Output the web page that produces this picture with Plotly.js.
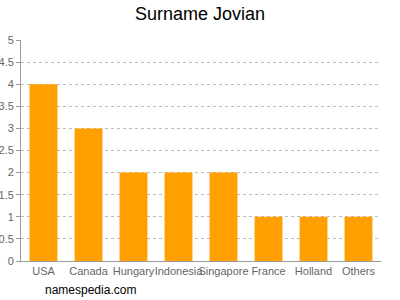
<!DOCTYPE html>
<html><head><meta charset="utf-8">
<script src="https://cdn.plot.ly/plotly-3.0.1.min.js"></script>
<style>html,body{margin:0;padding:0;background:#fff}#c{width:400px;height:300px}</style>
</head><body><div id="c"></div>
<script>
const categories = ["USA","Canada","Hungary","Indonesia","Singapore","France","Holland","Others"];
const counts = [4,3,2,2,2,1,1,1];
const yTicks = [0,0.5,1,1.5,2,2.5,3,3.5,4,4.5,5];
const yTickLabels = ["0","0.5","1","1.5","2","2.5","3","3.5","4","4.5","5"];

Plotly.newPlot('c', [{
  type: 'bar', x: categories, y: counts,
  marker: {color: '#ffa000', line: {width: 0}}, width: 0.62, hoverinfo: 'none'
}], {
  width: 400, height: 300,
  margin: {l: 21, r: 19, t: 40, b: 39},
  paper_bgcolor: '#fff', plot_bgcolor: '#fff',
  font: {family: 'Liberation Sans, Arial, sans-serif', size: 11, color: '#666'},
  title: {text: 'Surname Jovian', font: {size: 18, color: '#000', family: 'Liberation Sans, Arial, sans-serif'}, x: 0.5, xanchor: 'center', y: 0.955, yanchor: 'middle'},
  xaxis: {showline: true, linecolor: '#999', linewidth: 1, ticks: '', showgrid: false, tickangle: 0, automargin: false, tickfont: {size: 11, color: '#666'}, fixedrange: true},
  yaxis: {range: [0, 5], tickvals: yTicks, ticktext: yTickLabels, showline: true, linecolor: '#999', linewidth: 1,
    ticks: 'outside', ticklen: 4, tickcolor: '#999', gridcolor: '#bbbbbb', griddash: '3px,3px', gridwidth: 1,
    zeroline: false, automargin: false, tickfont: {size: 11, color: '#666'}, fixedrange: true},
  bargap: 0.38,
  showlegend: false,
  annotations: [{text: 'namespedia.com', xref: 'paper', yref: 'paper', x: 0.061, y: -0.13, xanchor: 'left', yanchor: 'middle', showarrow: false, font: {size: 12, color: '#000'}}]
}, {displayModeBar: false, staticPlot: true});
</script></body></html>
